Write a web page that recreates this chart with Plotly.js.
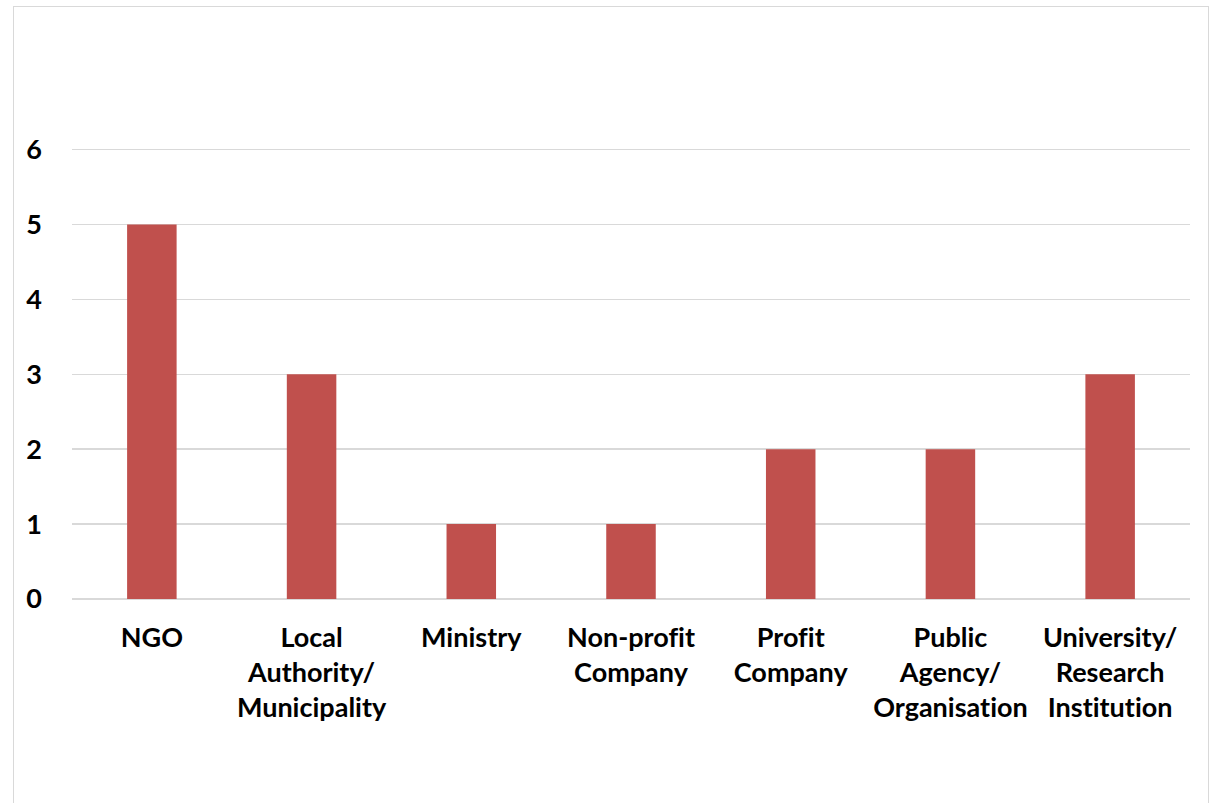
<!DOCTYPE html>
<html>
<head>
<meta charset="utf-8">
<script src="https://cdn.plot.ly/plotly-3.0.1.min.js"></script>
<style>
  html, body { margin: 0; padding: 0; background: #fff; }
  #frame { position: absolute; left: 13px; top: 6px; width: 1196px; height: 820px; border: 1px solid #d9d9d9; box-sizing: border-box; }
  #chart { position: absolute; left: 0; top: 0; width: 1212px; height: 803px; }
  #chart text { font-variant-ligatures: none; font-feature-settings: "liga" 0; }
</style>
</head>
<body>
<div id="frame"></div>
<div id="chart"></div>
<script>
const categories = ["NGO", "Local<br>Authority/<br>Municipality", "Ministry", "Non-profit<br>Company", "Profit<br>Company", "Public<br>Agency/<br>Organisation", "University/<br>Research<br>Institution"];
const values = [5, 3, 1, 1, 2, 2, 3];
const yTicks = [0, 1, 2, 3, 4, 5, 6];

const trace = {
  type: "bar",
  x: categories,
  y: values,
  marker: { color: "#c0504d" },
  hoverinfo: "x+y"
};

const layout = {
  width: 1212,
  height: 803,
  margin: { l: 72, r: 22, t: 148, b: 204 },
  paper_bgcolor: "rgba(0,0,0,0)",
  plot_bgcolor: "rgba(0,0,0,0)",
  bargap: 0.69,
  showlegend: false,
  font: { family: "Lato, 'Open Sans', sans-serif", color: "#000", size: 27 },
  xaxis: {
    type: "category",
    showgrid: false,
    showline: false,
    ticks: "",
    tickangle: 0,
    ticklabelstandoff: 20,
    tickfont: { family: "Lato", size: 27, weight: "bold", color: "#000" }
  },
  yaxis: {
    range: [0, 6.02],
    tickvals: yTicks,
    showgrid: true,
    gridcolor: "#d9d9d9",
    gridwidth: 1.5,
    zeroline: true,
    zerolinecolor: "#d9d9d9",
    zerolinewidth: 1.5,
    showline: false,
    ticks: "",
    ticklabelstandoff: 29,
    tickfont: { family: "Lato", size: 27, weight: "bold", color: "#000" }
  }
};

Plotly.newPlot("chart", [trace], layout, { displayModeBar: false, staticPlot: true });
</script>
</body>
</html>
